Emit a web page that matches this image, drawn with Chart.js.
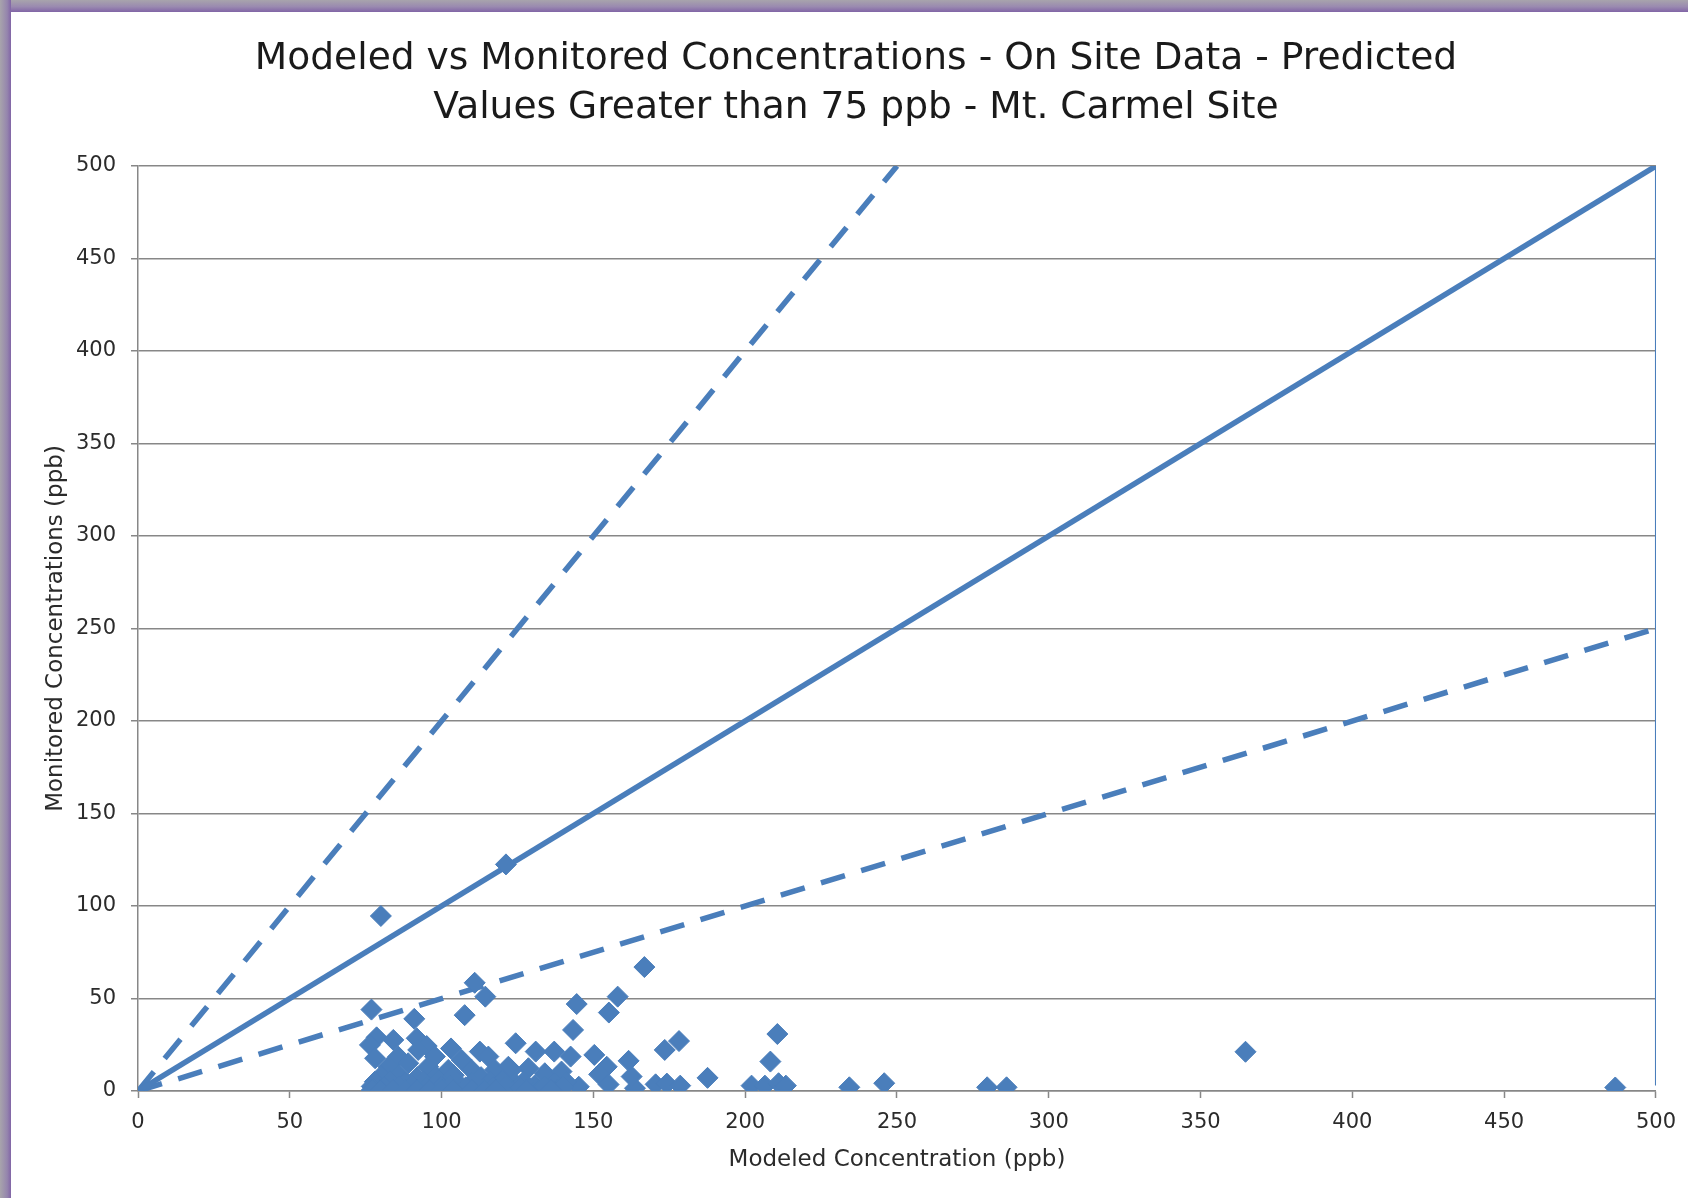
<!DOCTYPE html>
<html>
<head>
<meta charset="utf-8">
<title>Modeled vs Monitored Concentrations</title>
<script src="https://cdn.jsdelivr.net/npm/chart.js@4.4.1/dist/chart.umd.min.js"></script>
<style>
  html, body { margin: 0; padding: 0; background: #fff; overflow: hidden; }
  #chart { display: block; }
</style>
</head>
<body>
<canvas id="chart" width="1688" height="1198"></canvas>
<script>
// ── Data ──────────────────────────────────────────────────────
const titleLines = [
  'Modeled vs Monitored Concentrations - On Site Data - Predicted',
  'Values Greater than 75 ppb - Mt. Carmel Site'
];
const xAxisTitle = 'Modeled Concentration (ppb)';
const yAxisTitle = 'Monitored Concentrations (ppb)';

const axisMin = 0, axisMax = 500, axisStep = 50;

// modeled (x) / monitored (y) pairs
const modeled = [
  80.0, 121.2, 166.8, 110.9, 114.4, 76.9, 91.0, 107.6, 144.5, 158.0,
  155.1, 143.3, 210.6, 208.3, 364.8, 486.6, 178.2, 173.5, 187.6, 202.1,
  206.5, 211.0, 213.4, 234.3, 245.8, 279.7, 286.1, 170.5, 174.2, 178.6,
  163.7, 162.6, 161.6, 154.4, 151.9, 150.3, 155.0, 145.2, 142.5, 137.1,
  131.0, 124.4, 128.6, 123.0, 134.0, 139.5, 124.2, 130.8, 137.3, 131.8,
  138.3, 78.6, 84.1, 91.8, 76.4, 95.1, 103.1, 112.6, 78.1, 85.7,
  92.3, 97.8, 106.6, 115.4, 82.5, 89.0, 95.6, 102.2, 109.9, 117.6,
  122.0, 80.0, 86.0, 92.0, 98.0, 104.0, 113.0, 119.0, 78.0, 83.0,
  88.0, 94.0, 99.0, 105.0, 110.0, 116.0, 120.0, 127.0, 141.0, 77.0,
  81.0, 86.0, 90.0, 95.0, 100.0, 103.0, 108.0, 112.0, 117.0, 121.0,
  126.0, 134.0, 140.0, 77.0, 80.0, 84.0, 88.0, 92.0, 96.0, 100.0,
  104.0, 110.0, 114.0, 118.0, 128.0, 136.0
];
const monitored = [
  94.6, 122.5, 67.0, 58.5, 51.0, 44.0, 39.0, 41.0, 47.0, 51.0,
  42.4, 33.0, 30.8, 15.9, 21.2, 1.9, 27.0, 22.2, 7.1, 2.9,
  2.9, 4.2, 2.9, 2.0, 4.2, 2.0, 2.0, 3.6, 4.0, 2.9,
  1.5, 7.8, 16.3, 13.1, 9.0, 19.5, 3.5, 2.3, 18.6, 21.3,
  21.3, 25.8, 12.3, 11.4, 9.6, 10.5, 4.2, 3.2, 4.2, 0.3,
  0.3, 29.0, 27.6, 28.5, 24.9, 24.3, 23.0, 21.3, 17.7, 18.6,
  22.2, 18.6, 16.8, 18.6, 13.1, 15.0, 13.1, 11.4, 11.4, 11.4,
  13.1, 8.0, 8.5, 7.5, 8.0, 8.5, 7.5, 8.0, 5.0, 5.5,
  4.5, 5.0, 5.5, 5.0, 4.5, 5.0, 5.5, 5.0, 5.0, 2.5,
  2.0, 2.5, 3.0, 2.0, 2.5, 3.0, 2.0, 2.5, 2.0, 2.5,
  2.0, 2.5, 2.0, 0.5, 0.3, 0.5, 0.3, 0.5, 0.3, 0.5,
  0.3, 0.5, 0.3, 0.5, 0.3, 0.5
];

// reference lines: 1:1, factor-of-two above and below, right edge line
const oneToOne  = { x: [0, 500], y: [0, 500] };
const twoTimes  = { x: [0, 250], y: [0, 500] };
const halfTimes = { x: [0, 500], y: [0, 250] };
const edgeLine  = { x: [500, 500], y: [500, 3] };

// ── Styling ───────────────────────────────────────────────────
const BLUE   = '#4a7ebb';
const GRID   = '#878787';
const TEXT   = '#2b2b2b';
const FONT   = "'DejaVu Sans', Verdana, sans-serif";

const toPts = (xs, ys) => xs.map((x, i) => ({ x, y: ys[i] }));

const lineDs = (src, extra) => Object.assign({
  type: 'scatter',
  data: toPts(src.x, src.y),
  showLine: true,
  borderColor: BLUE,
  borderWidth: 5.5,
  pointRadius: 0,
  fill: false,
  order: 2,
}, extra);

// frame strips behind the chart, title on top
const framePlugin = {
  id: 'frame',
  beforeDraw(chart) {
    const { ctx, width, height } = chart;
    ctx.save();
    ctx.fillStyle = '#fff';
    ctx.fillRect(0, 0, width, height);

    let g = ctx.createLinearGradient(0, 0, 0, 12);
    g.addColorStop(0, '#a8a4ac');
    g.addColorStop(0.55, '#9a8ab0');
    g.addColorStop(1, '#8165a6');
    ctx.fillStyle = g;
    ctx.fillRect(0, 0, width, 12);

    g = ctx.createLinearGradient(0, 0, 11, 0);
    g.addColorStop(0, '#a8a4ac');
    g.addColorStop(0.65, '#9585ad');
    g.addColorStop(1, '#8165a6');
    ctx.fillStyle = g;
    ctx.fillRect(0, 0, 11, height);
    ctx.restore();
  },
  afterDraw(chart) {
    const { ctx } = chart;
    ctx.save();
    ctx.fillStyle = '#1a1a1a';
    ctx.font = `37.6px ${FONT}`;
    ctx.textAlign = 'center';
    ctx.textBaseline = 'middle';
    ctx.fillText(titleLines[0], 856, 59);
    ctx.fillText(titleLines[1], 856, 108);
    ctx.restore();
  },
};

new Chart(document.getElementById('chart'), {
  type: 'scatter',
  plugins: [framePlugin],
  data: {
    datasets: [
      {
        label: 'Data',
        data: toPts(modeled, monitored),
        pointStyle: 'rectRot',
        pointRadius: 10.5,
        pointBackgroundColor: BLUE,
        pointBorderColor: BLUE,
        pointBorderWidth: 1,
        order: 1,
      },
      lineDs(oneToOne),
      lineDs(twoTimes,  { borderDash: [25, 17] }),
      lineDs(halfTimes, { borderDash: [25, 17] }),
      lineDs(edgeLine,  { borderWidth: 2 }),
    ],
  },
  options: {
    responsive: false,
    animation: false,
    layout: { padding: { left: 12, right: 32, top: 166, bottom: 0 } },
    scales: {
      x: {
        type: 'linear',
        min: axisMin, max: axisMax,
        afterFit: s => { s.height = 107; },
        title: {
          display: true, text: xAxisTitle, color: TEXT,
          font: { family: FONT, size: 23 },
          padding: { top: 0, bottom: 24 },
        },
        ticks: {
          stepSize: axisStep, color: TEXT, padding: 12,
          font: { family: FONT, size: 21 },
        },
        grid: {
          drawOnChartArea: false, drawTicks: true,
          tickLength: 7, tickColor: GRID, tickWidth: 1.5,
        },
        border: { display: true, color: GRID, width: 1.5 },
      },
      y: {
        type: 'linear',
        min: axisMin, max: axisMax,
        afterFit: s => { s.width = 126; },
        title: {
          display: true, text: yAxisTitle, color: TEXT,
          font: { family: FONT, size: 23 },
          padding: { top: 30, bottom: 0 },
        },
        ticks: {
          stepSize: axisStep, color: TEXT, padding: 15,
          font: { family: FONT, size: 21 },
        },
        grid: {
          color: GRID, lineWidth: 1.5,
          drawTicks: true, tickLength: 7, tickColor: GRID, tickWidth: 1.5,
        },
        border: { display: true, color: GRID, width: 1.5 },
      },
    },
    plugins: {
      legend: { display: false },
      tooltip: { enabled: false },
      title: { display: false },
    },
  },
});
</script>
</body>
</html>
